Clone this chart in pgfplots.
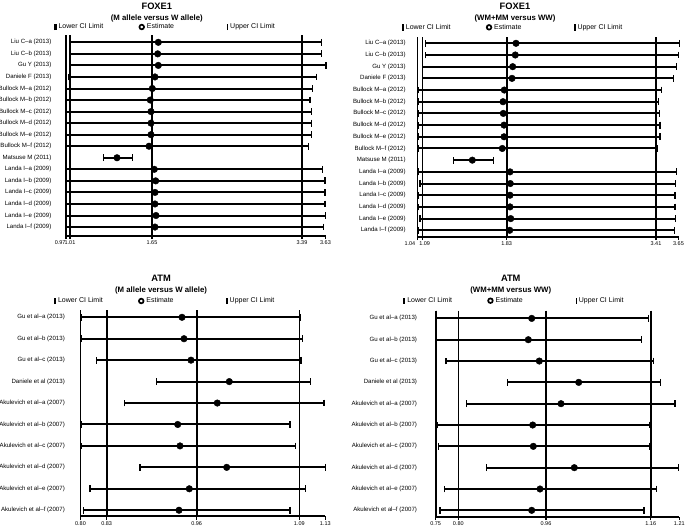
\documentclass[border=0pt]{standalone}
\usepackage{pgfplots}
\pgfplotsset{compat=1.18}
\usepackage{pgfplotstable}
\usepackage{fontspec}
\setmainfont{Liberation Sans}

% x values are positions on each panel's (non-linear) CI scale
\pgfplotstableread{
row lo est hi
1 70 158.3 321.7
2 70 157.7 321.7
3 70 158.3 326
4 68.3 155 316.7
5 66.7 152.3 312.3
6 66.7 150.3 310
7 66.7 151 311.3
8 66.7 151 311.3
9 66.7 151 311.3
10 66.7 149 308.7
11 103.7 117 132.7
12 66.7 154.3 322.7
13 66.7 155.7 325
14 66.7 155 325
15 66.7 155 325
16 66.7 156 325.3
17 66.7 155 323.7
}\dataA

\pgfplotstableread{
row lo est hi
1 425.7 516 679.3
2 425.7 515.3 678.3
3 422.7 512.7 676.7
4 422.7 512 673.3
5 418.3 504.3 661.7
6 418.3 503 658.7
7 418.3 503.3 659.3
8 418.3 504 660
9 418.3 504 660
10 418.3 502.3 657.3
11 453.7 472.3 493.7
12 418.3 510 676.7
13 420 510.3 675.7
14 418.3 510 675
15 418.3 510 675
16 420 510.7 675.7
17 418.3 509.7 674.7
}\dataB

\pgfplotstableread{
row lo est hi
1 81.7 182 300
2 81.7 184 302.3
3 96.7 191 301
4 156.7 229.3 310.7
5 124.3 217.3 324
6 81 177.7 290
7 81 180 295.3
8 140 226.7 325.3
9 90 189.3 305.3
10 83.3 179 290
}\dataC

\pgfplotstableread{
row lo est hi
1 436.7 531.7 648.3
2 436.7 528.3 641.7
3 446 539.3 653.3
4 507.3 578.7 660.7
5 466.7 561 675
6 437.3 532.7 649.3
7 438.3 533.3 649.3
8 486.7 574.3 678.7
9 444.7 540 656.7
10 440 531.7 644
}\dataD

\pgfplotsset{
  forest/.style={
    scale only axis, clip=false,
    y dir=reverse,
    axis lines*=left,
    axis line style={black, line width=1.6pt},
    xmajorgrids, major grid style={black, line width=1.6pt},
    tick align=outside, major tick length=3.5pt,
    x tick style={black, line width=1.2pt},
    ytick style={draw=none},
    x tick label style={font=\fontsize{5.5}{6}\selectfont, inner sep=1.5pt},
    y tick label style={font=\fontsize{6.1}{7}\selectfont, inner sep=0pt},
    extra x tick style={grid=none},
    title style={font=\bfseries, align=center, inner sep=0pt, anchor=south},
    legend columns=3,
    legend cell align=left,
    legend style={draw=none, fill=none, inner sep=0pt, anchor=west,
      font=\fontsize{7}{8}\selectfont},
  },
  est/.style={black, only marks, mark=*, mark size=3.3pt,
    error bars/x dir=both, error bars/x explicit,
    error bars/error mark=|,
    error bars/error bar style={line width=2pt, black},
    error bars/error mark options={line width=1.5pt, mark size=3.4pt, black}},
}
\newcommand\ForestLegend{%
  \addlegendimage{legend image code/.code={\draw[black,line width=2.4pt] (0pt,-3.2pt) -- (0pt,3.2pt);}}
  \addlegendentry{\makebox[78pt][l]{Lower CI Limit}}
  \addlegendimage{legend image code/.code={\draw[black,fill=white,line width=1.7pt] (0pt,0pt) circle (2.3pt);}}
  \addlegendentry{\makebox[78pt][l]{Estimate}}
  \addlegendimage{legend image code/.code={\draw[black,line width=1.3pt] (0pt,-3.2pt) -- (0pt,3.2pt);}}
  \addlegendentry{Upper CI Limit}%
}
\newcommand\ForestPlot[1]{%
  \addplot[forget plot, est] table[x=est, y=row,
    x error plus expr=\thisrow{hi}-\thisrow{est},
    x error minus expr=\thisrow{est}-\thisrow{lo}] {#1};%
}

\begin{document}
\begin{tikzpicture}
\useasboundingbox (0pt,0pt) rectangle (685pt,-531pt);

% ---------------- top left ----------------
\begin{axis}[forest, at={(66pt,-35pt)}, anchor=north west,
  width=259.5pt, height=200.7pt,
  xmin=66, xmax=325.5, ymin=0.367, ymax=17.75,
  xtick={66,70,152,302}, xticklabels={\llap{0.97\hspace{0.5pt}},1.01,1.65,3.39},
  extra x ticks={325.5}, extra x tick labels={3.63},
  ytick={1,...,17},
  yticklabels={Liu C–a (2013),Liu C–b (2013),Gu Y (2013),Daniele F (2013),
    Bullock M–a (2012),Bullock M–b (2012),Bullock M–c (2012),Bullock M–d (2012),
    Bullock M–e (2012),Bullock M–f (2012),Matsuse M (2011),Landa I–a (2009),
    Landa I–b (2009),Landa I–c (2009),Landa I–d (2009),Landa I–e (2009),Landa I–f (2009)},
  y tick label style={xshift=-11pt},
  title={\fontsize{9.3}{10}\selectfont FOXE1\\[-1pt]\fontsize{7.8}{9}\selectfont (M allele versus W allele)},
  title style={at={(axis description cs:0.35,1)}, yshift=7pt},
  legend style={at={(axis description cs:0,1)}, xshift=-12pt, yshift=8pt},
]
\ForestLegend
\ForestPlot{\dataA}
\end{axis}

% ---------------- top right ----------------
\begin{axis}[forest, at={(417.3pt,-37.3pt)}, anchor=north west,
  width=261.2pt, height=199.4pt,
  xmin=417.3, xmax=678.5, ymin=0.487, ymax=17.55,
  xtick={417.3,422.3,506.7,656}, xticklabels={\llap{1.04\hspace{2pt}},\rlap{\hspace{-3pt}1.09},1.83,3.41},
  extra x ticks={678.5}, extra x tick labels={3.65},
  ytick={1,...,17},
  yticklabels={Liu C–a (2013),Liu C–b (2013),Gu Y (2013),Daniele F (2013),
    Bullock M–a (2012),Bullock M–b (2012),Bullock M–c (2012),Bullock M–d (2012),
    Bullock M–e (2012),Bullock M–f (2012),Matsuse M (2011),Landa I–a (2009),
    Landa I–b (2009),Landa I–c (2009),Landa I–d (2009),Landa I–e (2009),Landa I–f (2009)},
  y tick label style={xshift=-8pt},
  title={\fontsize{9.3}{10}\selectfont FOXE1\\[-1pt]\fontsize{7.8}{9}\selectfont (WM+MM versus WW)},
  title style={at={(axis description cs:0.374,1)}, yshift=9pt},
  legend style={at={(axis description cs:0,1)}, xshift=-16pt, yshift=10pt},
]
\ForestLegend
\ForestPlot{\dataB}
\end{axis}

% ---------------- bottom left ----------------
\begin{axis}[forest, at={(80.5pt,-310pt)}, anchor=north west,
  width=244.8pt, height=206pt,
  xmin=80.5, xmax=325.3, ymin=0.66, ymax=10.27,
  xtick={80.5,106.7,196.7,299.3}, xticklabels={0.80,0.83,0.96,1.09},
  extra x ticks={325.3}, extra x tick labels={1.13},
  ytick={1,...,10},
  yticklabels={Gu et al–a (2013),Gu et al–b (2013),Gu et al–c (2013),Daniele et al (2013),
    Akulevich et al–a (2007),Akulevich et al–b (2007),Akulevich et al–c (2007),
    Akulevich et al–d (2007),Akulevich et al–e (2007),Akulevich et al–f (2007)},
  y tick label style={xshift=-12pt},
  title={\fontsize{9.3}{10}\selectfont ATM\\[-1pt]\fontsize{7.8}{9}\selectfont (M allele versus W allele)},
  title style={at={(axis description cs:0.329,1)}, yshift=10pt},
  legend style={at={(axis description cs:0,1)}, xshift=-27pt, yshift=9pt},
]
\ForestLegend
\ForestPlot{\dataC}
\end{axis}

% ---------------- bottom right ----------------
\begin{axis}[forest, at={(435.7pt,-310.7pt)}, anchor=north west,
  width=243.6pt, height=206pt,
  xmin=435.7, xmax=679.3, ymin=0.64, ymax=10.3,
  xtick={435.7,458.3,546,650.7}, xticklabels={0.75,0.80,0.96,1.16},
  extra x ticks={679.3}, extra x tick labels={1.21},
  ytick={1,...,10},
  yticklabels={Gu et al–a (2013),Gu et al–b (2013),Gu et al–c (2013),Daniele et al (2013),
    Akulevich et al–a (2007),Akulevich et al–b (2007),Akulevich et al–c (2007),
    Akulevich et al–d (2007),Akulevich et al–e (2007),Akulevich et al–f (2007)},
  y tick label style={xshift=-15pt},
  title={\fontsize{9.3}{10}\selectfont ATM\\[-1pt]\fontsize{7.8}{9}\selectfont (WM+MM versus WW)},
  title style={at={(axis description cs:0.308,1)}, yshift=10pt},
  legend style={at={(axis description cs:0,1)}, xshift=-33pt, yshift=10pt},
]
\ForestLegend
\ForestPlot{\dataD}
\end{axis}
\end{tikzpicture}
\end{document}
